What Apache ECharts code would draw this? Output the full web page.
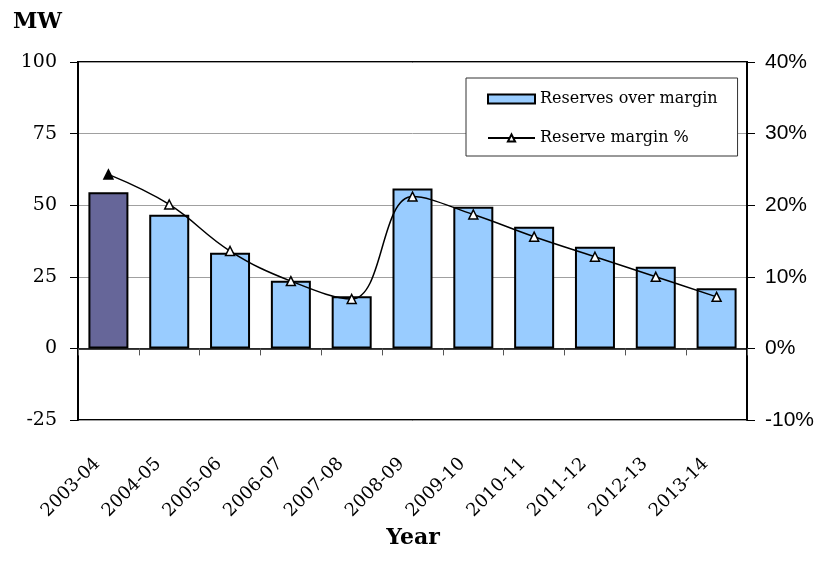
<!DOCTYPE html>
<html>
<head>
<meta charset="utf-8">
<title>Reserves over margin</title>
<script src="https://cdn.jsdelivr.net/npm/echarts@6/dist/echarts.min.js"></script>
<style>
  html, body { margin: 0; padding: 0; background: #fff; }
  #chart { width: 825px; height: 576px; }
</style>
</head>
<body>
<div id="chart"></div>
<script>
// Financial years on the category axis
const years = ['2003-04', '2004-05', '2005-06', '2006-07', '2007-08', '2008-09',
               '2009-10', '2010-11', '2011-12', '2012-13', '2013-14'];

// Reserves over margin (MW)
const reservesMW = [54.5, 46.7, 33.4, 23.6, 18.2, 55.8, 49.5, 42.5, 35.5, 28.5, 21.0];

// Reserve margin (%)
const reserveMarginPct = [24.3, 20.1, 13.6, 9.4, 6.9, 21.2, 18.7, 15.6, 12.8, 10.0, 7.2];

// Axis ranges: [min, max, step]
const mwAxis = [-25, 100, 25];
const pctAxis = [-10, 40, 10];

const SERIF = 'DejaVu Serif';
const SANS = 'Liberation Sans';

const chart = echarts.init(document.getElementById('chart'), null, { renderer: 'canvas' });

const barData = reservesMW.map((v, i) => i === 0
  ? { value: v, itemStyle: { color: '#666699' } }
  : v);

const lineData = reserveMarginPct.map((v, i) => i === 0
  ? { value: v, itemStyle: { color: '#000000' } }
  : v);

chart.setOption({
  animation: false,
  backgroundColor: '#ffffff',
  grid: [
    { left: 78, top: 62, width: 669, height: 358, show: true,
      borderColor: '#000', borderWidth: 2, backgroundColor: 'transparent' },
    // strip below the plot that carries the rotated year labels
    { left: 67, top: 420, width: 669, height: 33, show: false }
  ],
  graphic: [
    { type: 'text', left: 13, top: 11,
      style: { text: 'MW', font: 'bold 22px "' + SERIF + '"', fill: '#000' } },
    { type: 'text', x: 413, y: 538,
      style: { text: 'Year', font: 'bold 22px "' + SERIF + '"', fill: '#000',
               align: 'center', verticalAlign: 'middle' } }
  ],
  legend: {
    orient: 'vertical',
    left: 466, top: 78,
    backgroundColor: '#fff',
    borderColor: '#333',
    borderWidth: 1,
    padding: [13, 20, 10, 21],
    itemWidth: 47,
    itemHeight: 9,
    itemGap: 23,
    textStyle: { fontFamily: SERIF, fontSize: 16, color: '#000' },
    data: [
      { name: 'Reserves over margin', icon: 'rect' },
      { name: 'Reserve margin %' }
    ]
  },
  xAxis: [
    { type: 'category', gridIndex: 0, data: years,
      axisLine: { show: true, onZero: true, lineStyle: { color: '#000', width: 1.5 } },
      axisTick: { show: true, length: 7, lineStyle: { color: '#555', width: 1 } },
      axisLabel: { show: false },
      splitLine: { show: false } },
    { type: 'category', gridIndex: 1, data: years, position: 'bottom',
      axisLine: { show: false }, axisTick: { show: false },
      axisLabel: { show: true, rotate: 45, margin: 8, interval: 0,
                   fontFamily: SERIF, fontSize: 18, color: '#000' },
      splitLine: { show: false } }
  ],
  yAxis: [
    { type: 'value', gridIndex: 0, min: mwAxis[0], max: mwAxis[1], interval: mwAxis[2],
      position: 'left',
      axisLine: { show: true, lineStyle: { color: '#000', width: 2 } },
      axisTick: { show: true, length: 8, lineStyle: { color: '#000', width: 1 } },
      axisLabel: { margin: 21, fontFamily: SERIF, fontSize: 19, color: '#000' },
      splitLine: { show: true, lineStyle: { color: '#a0a0a0', width: 1 } } },
    { type: 'value', gridIndex: 0, min: pctAxis[0], max: pctAxis[1], interval: pctAxis[2],
      position: 'right',
      axisLine: { show: true, lineStyle: { color: '#000', width: 2 } },
      axisTick: { show: true, length: 8, lineStyle: { color: '#000', width: 1 } },
      axisLabel: { margin: 18, fontFamily: SANS, fontSize: 21, color: '#000',
                   formatter: '{value}%' },
      splitLine: { show: false } },
    { type: 'value', gridIndex: 1, show: false }
  ],
  series: [
    { name: 'Reserves over margin', type: 'bar',
      xAxisIndex: 0, yAxisIndex: 0,
      barWidth: 40,
      itemStyle: { color: '#99ccff', borderColor: '#000', borderWidth: 2 },
      data: barData },
    { name: 'Reserve margin %', type: 'line',
      xAxisIndex: 0, yAxisIndex: 1,
      smooth: 0.4,
      symbol: 'triangle', symbolSize: 9,
      lineStyle: { color: '#000', width: 1.5 },
      itemStyle: { color: '#ffffff', borderColor: '#000', borderWidth: 1.5 },
      z: 5,
      data: lineData }
  ]
});
</script>
</body>
</html>
